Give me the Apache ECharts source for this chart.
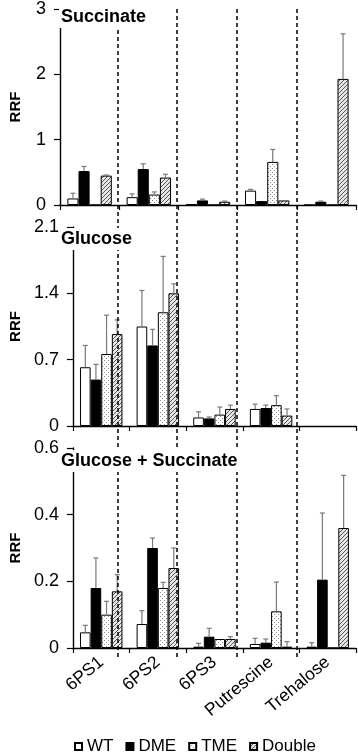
<!DOCTYPE html>
<html>
<head>
<meta charset="utf-8">
<script src="https://cdn.jsdelivr.net/npm/echarts@6/dist/echarts.min.js"></script>
<style>
html,body{margin:0;padding:0;background:#fff;}
#chart{width:358px;height:754px;}
</style>
</head>
<body>
<div id="chart"></div>
<script>
// ---------- data ----------
const categories = ['6PS1', '6PS2', '6PS3', 'Putrescine', 'Trehalose'];
const seriesNames = ['WT', 'DME', 'TME', 'Double'];
const panelTitles = ['Succinate', 'Glucose', 'Glucose + Succinate'];
const axisName = 'RRF';

// Succinate
const succWT      = [0.10, 0.12, 0.01, 0.22, 0];
const succWTErr   = [0.08, 0.05, 0, 0.02, 0];
const succDME     = [0.52, 0.55, 0.07, 0.06, 0.05];
const succDMEErr  = [0.07, 0.08, 0.02, 0, 0.01];
const succTME     = [0, 0.16, 0, 0.66, 0];
const succTMEErr  = [0, 0.04, 0, 0.19, 0];
const succDbl     = [0.45, 0.42, 0.05, 0.07, 1.93];
const succDblErr  = [0.01, 0.05, 0.01, 0, 0.69];

// Glucose
const glucWT      = [0.62, 1.05, 0.09, 0.18, null];
const glucWTErr   = [0.23, 0.38, 0.06, 0.05, null];
const glucDME     = [0.49, 0.85, 0.08, 0.19, null];
const glucDMEErr  = [0.16, 0.17, 0.015, 0.03, null];
const glucTME     = [0.76, 1.20, 0.12, 0.22, null];
const glucTMEErr  = [0.41, 0.59, 0.08, 0.10, null];
const glucDbl     = [0.97, 1.40, 0.18, 0.11, null];
const glucDblErr  = [0.15, 0.10, 0.04, 0.07, null];

// Glucose + Succinate
const gsWT        = [0.047, 0.072, 0.004, 0.012, 0.004];
const gsWTErr     = [0.021, 0.040, 0.010, 0.017, 0.012];
const gsDME       = [0.180, 0.300, 0.034, 0.016, 0.205];
const gsDMEErr    = [0.090, 0.030, 0.025, 0.011, 0.200];
const gsTME       = [0.100, 0.180, 0.027, 0.110, 0];
const gsTMEErr    = [0.040, 0.017, 0, 0.088, 0];
const gsDbl       = [0.170, 0.240, 0.027, 0.004, 0.360];
const gsDblErr    = [0.050, 0.060, 0.007, 0.015, 0.158];

// y-axis tick labels per panel
const ticksSucc = [0, 1, 2, 3];
const ticksGluc = [0, 0.7, 1.4, 2.1];
const ticksGS   = [0, 0.2, 0.4, 0.6];

// category boundaries carrying the dashed separators
const separators = [1, 2, 3, 4];

// ---------- build ----------
const FONT = '"Liberation Sans", Arial, Helvetica, sans-serif';

function dotPattern() {
  const c = document.createElement('canvas');
  c.width = 4; c.height = 4;
  const g = c.getContext('2d');
  g.fillStyle = '#ffffff'; g.fillRect(0, 0, 4, 4);
  g.fillStyle = '#8c8c8c';
  g.fillRect(0, 0, 1, 1);
  g.fillRect(2, 2, 1, 1);
  return c;
}
function hatchPattern() {
  const c = document.createElement('canvas');
  c.width = 4; c.height = 4;
  const g = c.getContext('2d');
  g.fillStyle = '#e6e6e6'; g.fillRect(0, 0, 4, 4);
  g.strokeStyle = '#5a5a5a'; g.lineWidth = 1;
  g.beginPath();
  g.moveTo(0, 4); g.lineTo(4, 0);
  g.moveTo(-1, 1); g.lineTo(1, -1);
  g.moveTo(3, 5); g.lineTo(5, 3);
  g.stroke();
  return c;
}
const fills = [
  '#ffffff',
  '#000000',
  { image: dotPattern(), repeat: 'repeat' },
  { image: hatchPattern(), repeat: 'repeat' }
];

const panels = [
  { values: [succWT, succDME, succTME, succDbl], errs: [succWTErr, succDMEErr, succTMEErr, succDblErr], ticks: ticksSucc },
  { values: [glucWT, glucDME, glucTME, glucDbl], errs: [glucWTErr, glucDMEErr, glucTMEErr, glucDblErr], ticks: ticksGluc },
  { values: [gsWT, gsDME, gsTME, gsDbl], errs: [gsWTErr, gsDMEErr, gsTMEErr, gsDblErr], ticks: ticksGS }
];

const gridBoxes = [
  { top: 5, height: 200 },
  { top: 227, height: 199 },
  { top: 448, height: 200 }
];
const titleTops = [6, 228, 450];
const BAR_GAP = 0.25;

const grid = gridBoxes.map(b => ({ left: 58, right: 2, top: b.top, height: b.height }));
// overlay grid for the dashed separators
grid.push({ left: 58, right: 2, top: 8, bottom: 97 });

const xAxis = [], yAxis = [], series = [];
panels.forEach((p, i) => {
  xAxis.push({
    type: 'category', gridIndex: i, data: categories, boundaryGap: true,
    axisLine: { lineStyle: { color: '#000', width: 1.4 } },
    axisTick: { show: true, length: 5, interval: 0, lineStyle: { color: '#000', width: 1.2 } },
    axisLabel: {
      show: i === 2, interval: 0, rotate: 40, margin: 12,
      fontSize: 17.5, color: '#000', fontFamily: FONT
    },
    splitLine: { show: false }
  });
  const t = p.ticks;
  yAxis.push({
    type: 'value', gridIndex: i,
    min: t[0], max: t[t.length - 1], interval: t[1] - t[0],
    name: axisName, nameLocation: 'middle', nameRotate: 90, nameGap: 37,
    nameTextStyle: { fontSize: 15, fontWeight: 'bold', color: '#000', fontFamily: FONT },
    axisLine: { show: true, lineStyle: { color: '#000', width: 1.4 } },
    axisTick: { show: true, length: 6, lineStyle: { color: '#000', width: 1.2 } },
    axisLabel: {
      margin: 14, fontSize: 18, color: '#000', fontFamily: FONT,
      formatter: v => String(Math.round(v * 100) / 100)
    },
    splitLine: { show: false }
  });
  p.values.forEach((vals, s) => {
    series.push({
      type: 'bar', name: seriesNames[s], xAxisIndex: i, yAxisIndex: i,
      data: vals, barGap: '0%', barCategoryGap: (BAR_GAP * 100) + '%',
      itemStyle: { color: fills[s], borderColor: '#000', borderWidth: 1 },
      emphasis: { disabled: true }, animation: false, z: 2
    });
  });
  // error bars
  const errData = [];
  p.values.forEach((vals, s) => {
    vals.forEach((v, c) => {
      const e = p.errs[s][c];
      if (v != null && e) errData.push([c, s, v, e]);
    });
  });
  const nSeries = p.values.length;
  series.push({
    type: 'custom', xAxisIndex: i, yAxisIndex: i, data: errData,
    encode: { x: 0, y: 2 }, animation: false, silent: true, z: 3,
    renderItem: (params, api) => {
      const c = api.value(0), s = api.value(1), v = api.value(2), e = api.value(3);
      const band = api.size([1, 0])[0];
      const groupW = band * (1 - BAR_GAP);
      const barW = groupW / nSeries;
      const center = api.coord([c, 0])[0];
      const x = center - groupW / 2 + barW * (s + 0.5);
      const y0 = api.coord([c, v])[1];
      const y1 = api.coord([c, v + e])[1];
      const st = { stroke: '#7a7a7a', lineWidth: 1.2 };
      return {
        type: 'group',
        children: [
          { type: 'line', shape: { x1: x, y1: y0, x2: x, y2: y1 }, style: st },
          { type: 'line', shape: { x1: x - 2.5, y1: y1, x2: x + 2.5, y2: y1 }, style: st }
        ]
      };
    }
  });
});

// overlay axes for the separators
xAxis.push({ type: 'value', gridIndex: 3, min: 0, max: categories.length, show: false });
yAxis.push({ type: 'value', gridIndex: 3, min: 0, max: 1, show: false });
series.push({
  type: 'line', xAxisIndex: 3, yAxisIndex: 3, data: [[0, 0]], showSymbol: false,
  lineStyle: { opacity: 0 }, silent: true, animation: false, z: 1,
  markLine: {
    silent: true, symbol: ['none', 'none'], animation: false,
    label: { show: false },
    lineStyle: { color: '#000', width: 1.5, type: [4, 3] },
    emphasis: { disabled: true },
    data: separators.map(v => ({ xAxis: v }))
  }
});

const option = {
  backgroundColor: '#fff',
  animation: false,
  title: panelTitles.map((t, i) => ({
    text: t, left: 59, top: titleTops[i], padding: [2, 2, 2, 2],
    backgroundColor: '#fff', z: 10,
    textStyle: { fontSize: 18, fontWeight: 'bold', color: '#000', fontFamily: FONT }
  })),
  legend: {
    data: seriesNames, left: 74, top: 738, padding: 0,
    itemWidth: 7, itemHeight: 7, itemGap: 12, icon: 'rect',
    selectedMode: false,
    textStyle: { fontSize: 17, color: '#000', fontFamily: FONT }
  },
  grid, xAxis, yAxis, series
};

const chart = echarts.init(document.getElementById('chart'), null, { renderer: 'canvas' });
chart.setOption(option);
</script>
</body>
</html>
